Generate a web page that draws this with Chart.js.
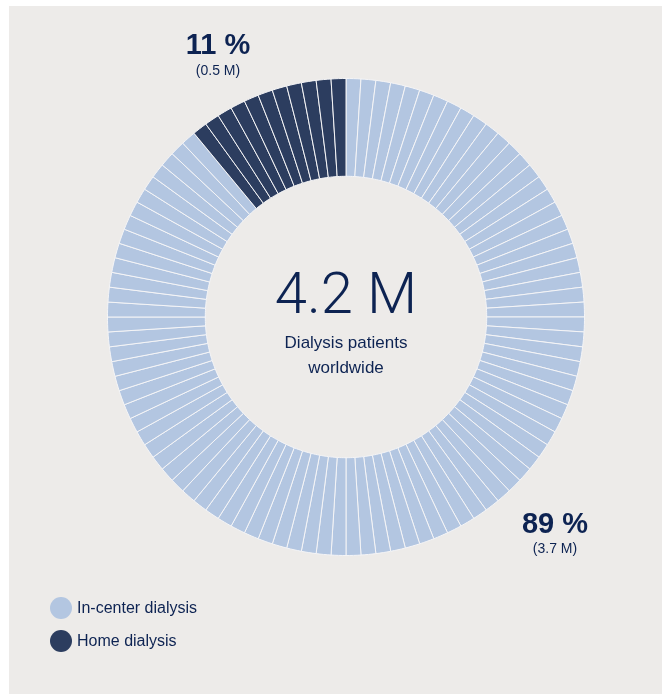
<!DOCTYPE html>
<html>
<head>
<meta charset="utf-8">
<script src="https://cdn.jsdelivr.net/npm/chart.js@4.4.1/dist/chart.umd.min.js"></script>
<style>
  html, body { margin: 0; padding: 0; background: #ffffff; }
  #wrap { position: absolute; left: 9px; top: 6px; width: 653px; height: 688px; background: #edebe9; }
  #c { position: absolute; left: 0; top: 0; }
</style>
</head>
<body>
<div id="wrap"></div>
<canvas id="c" width="662" height="694"></canvas>
<script>
// ---- data ----
const categories = ["In-center dialysis", "Home dialysis"];
const sharePercent = [89, 11];
const patientsMillions = [3.7, 0.5];
const totalLabel = "4.2 M";
const centerCaption = ["Dialysis patients", "worldwide"];
const percentLabels = ["89 %", "11 %"];
const millionLabels = ["(3.7 M)", "(0.5 M)"];

const colors = ["#b3c6e1", "#2c3d5f"];
const textColor = "#0d2352";

// one slice per percent point
const sliceValues = [];
const sliceColors = [];
categories.forEach((c, i) => {
  for (let k = 0; k < sharePercent[i]; k++) {
    sliceValues.push(1);
    sliceColors.push(colors[i]);
  }
});
const sliceLabels = sliceValues.map((v, i) => "s" + i);

const overlay = {
  id: 'overlay',
  afterDraw(chart) {
    const ctx = chart.ctx;
    ctx.save();
    ctx.fillStyle = textColor;
    ctx.textAlign = 'center';
    ctx.textBaseline = 'alphabetic';
    // center text
    ctx.font = '300 58px Roboto, "Liberation Sans", Arial, sans-serif';
    ctx.fillText(totalLabel, 346, 313);
    ctx.font = '17px "Liberation Sans", Arial, sans-serif';
    ctx.fillText(centerCaption[0], 346, 348);
    ctx.fillText(centerCaption[1], 346, 373);
    // percent labels
    ctx.font = 'bold 29px "Liberation Sans", Arial, sans-serif';
    ctx.fillText(percentLabels[1], 218, 54);
    ctx.fillText(percentLabels[0], 555, 533);
    ctx.font = '14px "Liberation Sans", Arial, sans-serif';
    ctx.fillText(millionLabels[1], 218, 75);
    ctx.fillText(millionLabels[0], 555, 553);
    // legend
    const ly = [608, 641];
    categories.forEach((c, i) => {
      ctx.beginPath();
      ctx.fillStyle = colors[i];
      ctx.arc(61, ly[i], 11, 0, Math.PI * 2);
      ctx.fill();
      ctx.fillStyle = textColor;
      ctx.textAlign = 'left';
      ctx.textBaseline = 'middle';
      ctx.font = '16px "Liberation Sans", Arial, sans-serif';
      ctx.fillText(c, 77, ly[i] + 1);
    });
    ctx.restore();
  }
};

new Chart(document.getElementById('c'), {
  type: 'doughnut',
  data: {
    labels: sliceLabels,
    datasets: [{
      data: sliceValues,
      backgroundColor: sliceColors,
      borderColor: '#f4f4f6',
      borderWidth: 1,
      hoverOffset: 0
    }]
  },
  options: {
    responsive: false,
    animation: false,
    cutout: '59%',
    layout: { padding: { left: 107, right: 77, top: 78, bottom: 138 } },
    plugins: { legend: { display: false }, tooltip: { enabled: false } }
  },
  plugins: [overlay]
});
</script>
</body>
</html>
